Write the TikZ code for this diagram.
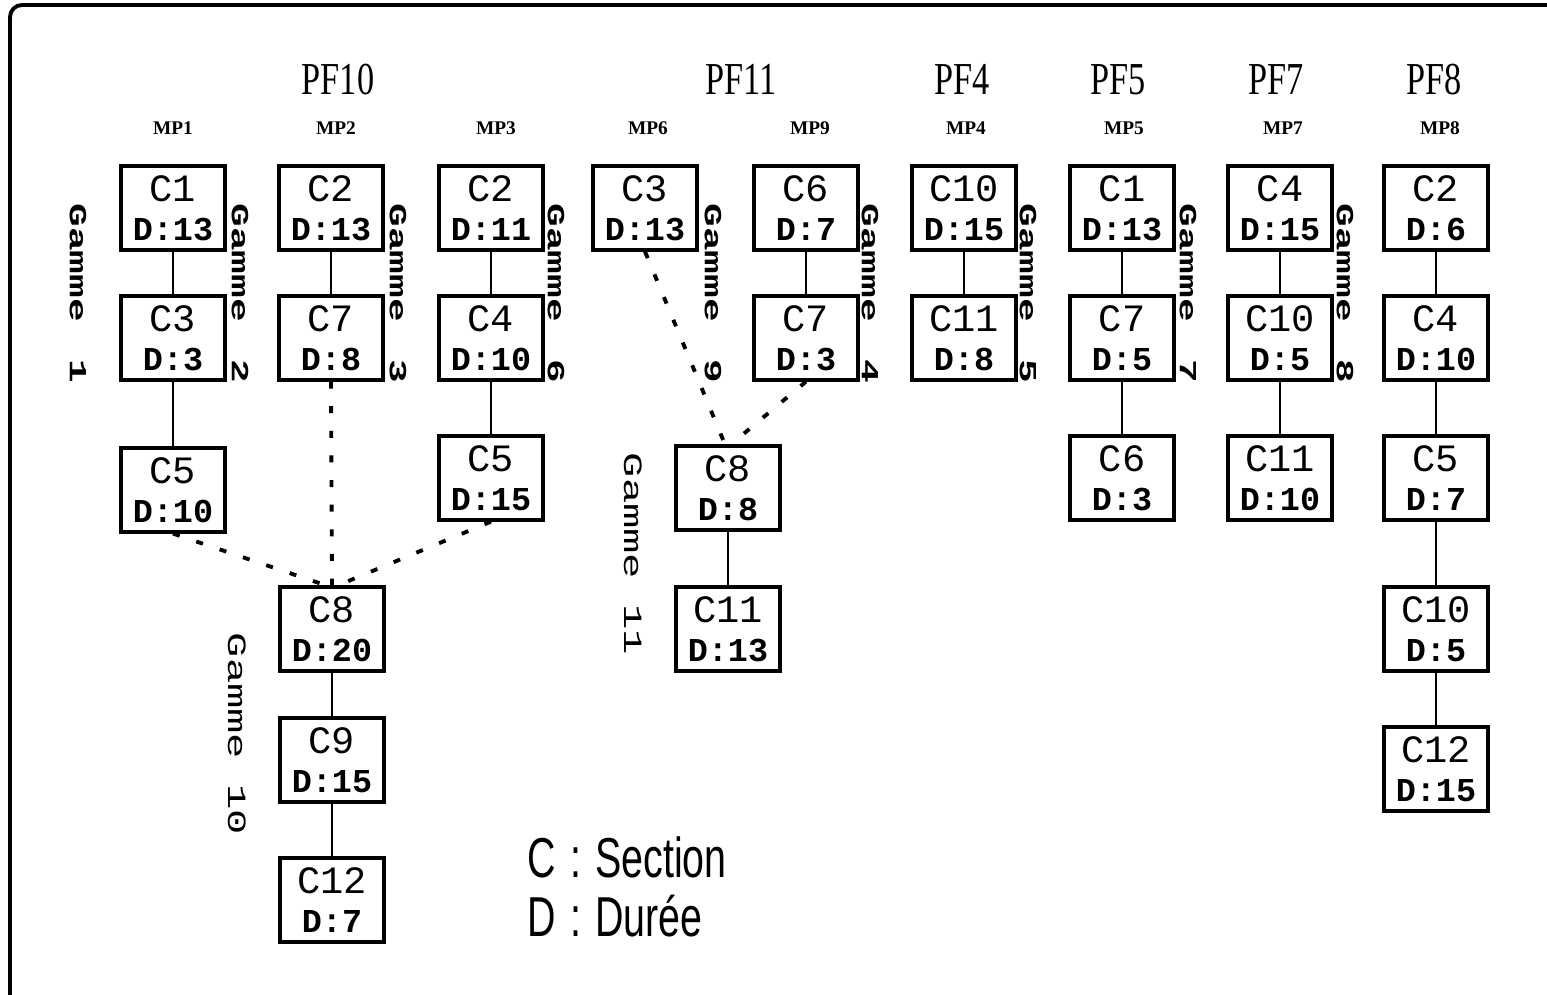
\documentclass[tikz,border=0pt]{standalone}
\usepackage{fontspec}
\usetikzlibrary{positioning}
\newfontfamily\boxfont{Liberation Mono}
\newfontfamily\gamfont[FakeStretch=1.6]{Liberation Mono}
\newfontfamily\titlefont[FakeStretch=0.75]{Liberation Serif}
\newfontfamily\mpfont{Liberation Serif}
\newfontfamily\legfont[FakeStretch=0.7]{Liberation Sans}
\newcommand\durtxt[1]{{\bfseries\fontsize{9.5}{9.5}\selectfont D:#1}}
\tikzset{
  sect/.style={draw, line width=0.9pt, minimum width=1.04cm, minimum height=0.84cm,
               inner sep=1pt, align=center, font=\boxfont\fontsize{11}{11}\selectfont},
  link/.style={line width=0.7pt},
  dotlink/.style={line width=1.1pt, dash pattern=on 2pt off 5pt},
  pf/.style={anchor=base, inner sep=0pt, font=\titlefont\fontsize{13}{13}\selectfont},
  mp/.style={anchor=base, inner sep=0pt, font=\mpfont\bfseries\fontsize{5.5}{6}\selectfont},
  gam/.style={rotate=-90, anchor=west, inner sep=0pt,
              font=\gamfont\bfseries\fontsize{7}{7}\selectfont},
  gamlt/.style={gam, font=\gamfont\fontsize{7.5}{7.5}\selectfont},
  leg/.style={anchor=base west, inner sep=0pt, font=\legfont\fontsize{16}{16}\selectfont},
  frame/.style={line width=1.1pt, rounded corners=0.12cm},
}
\begin{document}
\begin{tikzpicture}[x=0.01cm, y=-0.01cm]
\useasboundingbox (0,0) rectangle (1547,995);
\draw[frame] (1547,5) -- (10,5) -- (10,995);
% products and raw materials
\foreach \x/\t in {338/PF10, 741/PF11, 962/PF4, 1118/PF5, 1276/PF7, 1434/PF8} {
  \node[pf] (pf\t) at (\x,95) {\t};
}
\foreach \x/\t in {173/MP1, 336/MP2, 496/MP3, 648/MP6, 810/MP9, 966/MP4, 1124/MP5,
                   1283/MP7, 1440/MP8} {
  \node[mp] (mp\t) at (\x,135) {\t};
}
% sections
\foreach \n/\x/\y/\c/\d in {a1/173/208/C1/13, b1/331/208/C2/13, c1/491/208/C2/11,
                            d1/645/208/C3/13, e1/806/208/C6/7, f1/964/208/C10/15,
                            g1/1122/208/C1/13, h1/1280/208/C4/15, i1/1436/208/C2/6,
                            a2/173/338/C3/3, b2/331/338/C7/8, c2/491/338/C4/10,
                            e2/806/338/C7/3, f2/964/338/C11/8, g2/1122/338/C7/5,
                            h2/1280/338/C10/5, i2/1436/338/C4/10,
                            a3/173/490/C5/10, c3/491/478/C5/15, g3/1122/478/C6/3,
                            h3/1280/478/C11/10, i3/1436/478/C5/7,
                            i4/1436/629/C10/5, i5/1436/769/C12/15,
                            j1/332/629/C8/20, j2/332/760/C9/15, j3/332/900/C12/7,
                            k1/728/488/C8/8, k2/728/629/C11/13} {
  \node[sect] (\n) at (\x,\y) {\c\\\durtxt{\d}};
}
\foreach \u/\v in {a1/a2, a2/a3, b1/b2, c1/c2, c2/c3, e1/e2, f1/f2, g1/g2, g2/g3,
                   h1/h2, h2/h3, i1/i2, i2/i3, i3/i4, i4/i5, j1/j2, j2/j3, k1/k2} {
  \draw[link] (\u) -- (\v);
}
\draw[dotlink] (a3.south) -- ([xshift=-0.6mm]j1.north);
\draw[dotlink] (b2.south) -- (j1.north);
\draw[dotlink] (c3.south) -- ([xshift=0.6mm]j1.north);
\draw[dotlink] (d1.south) -- ([xshift=-0.3mm]k1.north);
\draw[dotlink] (e2.south) -- ([xshift=0.3mm]k1.north);
% gammes
\foreach \x/\g in {78/1, 240/2, 398/3, 556/6, 713/9, 870/4, 1028/5, 1188/7, 1345/8} {
  \node[gam] (gam\g) at (\x,203) {Gamme\ \kern4pt\g};
}
\node[gamlt] (gam10) at (237,632) {Gamme\ 10};
\node[gamlt] (gam11) at (633,452) {Gamme\ 11};
% legend
\node[leg] (legC) at (527,878) {C\hspace{0.25em}:\hspace{0.25em}Section};
\node[leg] (legD) at (527,937) {D\hspace{0.25em}:\hspace{0.25em}Durée};
\end{tikzpicture}
\end{document}
